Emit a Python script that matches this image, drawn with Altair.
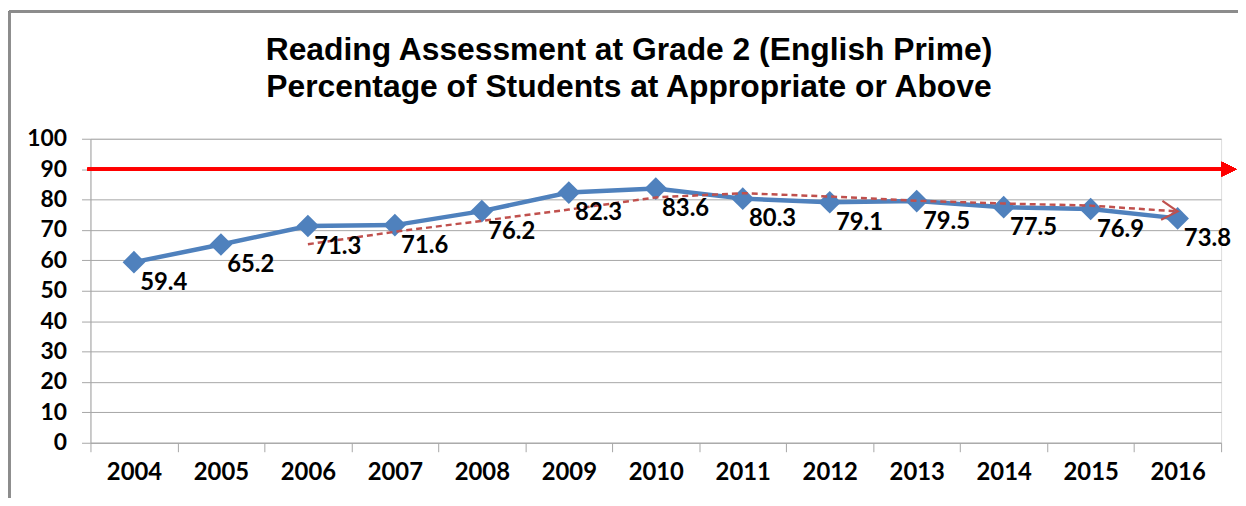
import altair as alt
import pandas as pd

years = ["2004", "2005", "2006", "2007", "2008", "2009", "2010",
         "2011", "2012", "2013", "2014", "2015", "2016"]
values = [59.4, 65.2, 71.3, 71.6, 76.2, 82.3, 83.6, 80.3, 79.1, 79.5, 77.5, 76.9, 73.8]
trend = [None, None, 65.3, 69.4, 73.0, 76.7, 80.7, 82.1, 81.0, 79.6, 78.7, 78.0, 76.1]
target = 90
y_ticks = [0, 10, 20, 30, 40, 50, 60, 70, 80, 90, 100]

df = pd.DataFrame({"year": years, "value": values, "trend": trend})

W, H = 1138, 306
BLUE = "#4F81BD"
DASH_RED = "#C0504D"
GRID = "#A6A6A6"

xenc = alt.X("year:O", sort=years,
             scale=alt.Scale(type="band", paddingInner=0, paddingOuter=0),
             axis=alt.Axis(title=None, labelAngle=0, tickBand="extent", grid=False,
                           domainColor=GRID, tickColor=GRID, tickSize=9,
                           labelFont="Lato", labelFontWeight="bold", labelFontSize=24,
                           labelColor="black", labelPadding=9))
yscale = alt.Scale(domain=[0, 100], nice=False)
yenc = alt.Y("value:Q", scale=yscale,
             axis=alt.Axis(title=None, values=y_ticks, tickCount=11, grid=True,
                           gridColor=GRID, labelOverlap=False,
                           domainColor=GRID, tickColor=GRID, tickSize=9,
                           labelFont="Lato", labelFontWeight="bold", labelFontSize=23,
                           labelColor="black", labelPadding=15))

base = alt.Chart(df)

frame_left = base.mark_rule(color="#8C8C8C", strokeWidth=2.5).encode(
    x=alt.value(-82), y=alt.value(-128), y2=alt.value(400))
frame_top = base.mark_rule(color="#8C8C8C", strokeWidth=2.5).encode(
    x=alt.value(-82), x2=alt.value(1160), y=alt.value(-128))

target_line = base.mark_rule(color="#FF0000", strokeWidth=3).encode(
    y=alt.datum(target, scale=yscale), x=alt.value(-3), x2=alt.value(W + 2))
target_arrow = base.mark_point(shape="M-1,-1L1,0L-1,1Z", filled=True, color="#FF0000",
                               opacity=1, size=225).encode(
    y=alt.datum(target, scale=yscale), x=alt.value(W + 8))

line = base.mark_line(color=BLUE, strokeWidth=4.5).encode(x=xenc, y=yenc)
points = base.mark_point(shape="diamond", filled=True, color=BLUE, opacity=1,
                         size=520).encode(x=xenc, y=yenc)

trend_line = base.transform_filter("datum.trend != null").mark_line(
    color=DASH_RED, strokeWidth=2.5, strokeDash=[6, 4]).encode(
    x=xenc, y=alt.Y("trend:Q", scale=yscale))
trend_arrow = base.transform_filter("datum.year == '2016'").mark_point(
    shape="M-1,-0.6L0,0L-1,0.6", filled=False, color=DASH_RED, strokeWidth=2.2,
    opacity=1, size=1024, angle=4).encode(
    x=xenc, y=alt.Y("trend:Q", scale=yscale))

labels = base.mark_text(font="Lato", fontWeight="bold", fontSize=24, color="black",
                        dx=30, dy=21).encode(
    x=xenc, y=yenc, text=alt.Text("value:Q", format=".1f"))

chart = alt.layer(
    frame_left, frame_top, line, points, target_line, target_arrow,
    trend_line, trend_arrow, labels
).properties(
    width=W, height=H,
    title=alt.TitleParams(
        text=["Reading Assessment at Grade 2 (English Prime)",
              "Percentage of Students at Appropriate or Above"],
        font="Liberation Sans", fontSize=32, fontWeight="bold", color="black",
        anchor="middle", frame="group", baseline="alphabetic",
        dx=-27, dy=119, offset=0, lineHeight=37),
    autosize=alt.AutoSizeParams(type="none"),
    padding={"left": 83, "top": 130, "right": 17, "bottom": 54},
).configure_view(stroke=None).configure(background="white")

chart.save("out.html", embed_options={"renderer": "svg", "actions": False})
